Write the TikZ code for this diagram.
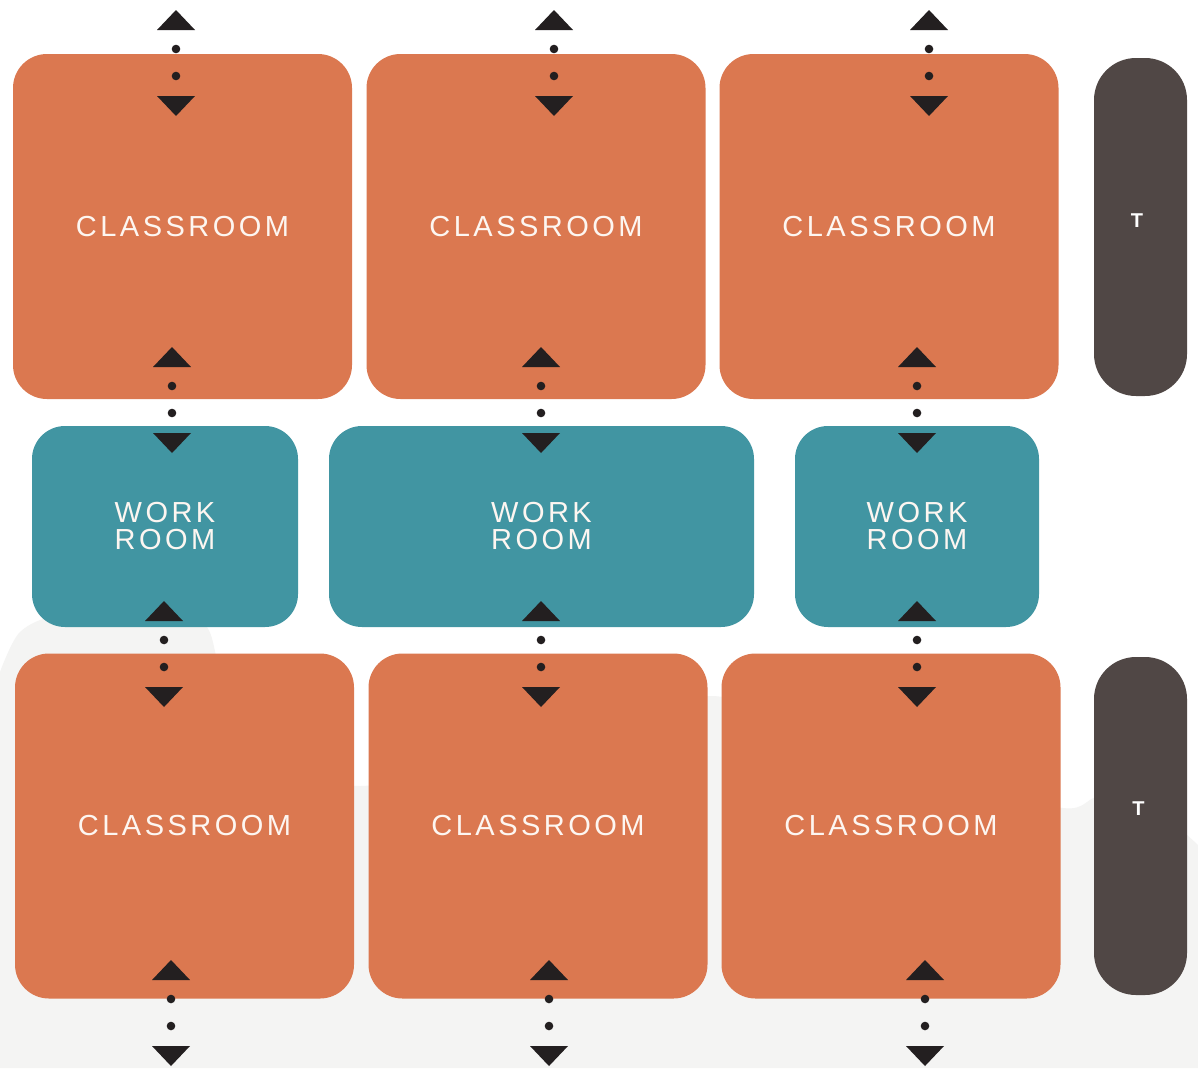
\documentclass[tikz,border=0pt]{standalone}
\usepackage{fontspec}
\setmainfont{Liberation Sans}
\newfontfamily\roomfont{Liberation Sans}[LetterSpace=12]
\definecolor{classc}{HTML}{DB7850}
\definecolor{workc}{HTML}{4195A2}
\definecolor{tc}{HTML}{504745}
\definecolor{tipc}{HTML}{231F20}
\definecolor{bgc}{HTML}{F4F4F3}
\definecolor{txtc}{HTML}{FDF6F1}
\tikzset{
  room/.style={inner sep=0pt, text=txtc, align=center,
    font=\roomfont\fontsize{29}{27}\selectfont},
  classroom/.style={room, fill=classc, rounded corners=34pt,
    minimum width=339pt, minimum height=345pt},
  workroom/.style={room, fill=workc, rounded corners=33pt, minimum height=201pt},
  tbox/.style={fill=tc, rounded corners=42pt, minimum width=93pt, minimum height=338pt, inner sep=0pt},
  tlabel/.style={text=white, font=\bfseries\fontsize{20}{20}\selectfont, inner sep=0pt},
  dotline/.style={draw=tipc, line width=8.6pt, line cap=round,
    dash pattern=on 0pt off 27pt, dash phase=8pt,
    shorten <=20pt, shorten >=20pt},
  tipfill/.style={fill=tipc}
}
\newcommand\roomconn[3]{%
  \coordinate (#1-a) at (#2,#3);
  \coordinate (#1-b) at (#2,#3+106);
  \draw[dotline] (#1-a) -- (#1-b);
  \fill[tipfill] (#1-a) -- ++(19,20) -- ++(-38,0) -- cycle;
  \fill[tipfill] (#1-b) -- ++(19,-20) -- ++(-38,0) -- cycle;
}
\begin{document}
\begin{tikzpicture}[x=1pt,y=-1pt]
\useasboundingbox (0,0) rectangle (1198,1068);
\fill[white] (0,0) rectangle (1198,1068);
% faint background cloud
\fill[bgc] plot[smooth] coordinates {(0,672) (20,632) (60,615) (150,613) (205,625) (225,680) (290,760) (360,786) (480,760) (620,715) (712,696) (800,720) (930,775) (1063,808) (1100,797) (1160,815) (1198,845)}
  -- (1198,1068) -- (0,1068) -- cycle;

% classrooms
\node[classroom] (c1) at (182.5,226.5) {CLASSROOM};
\node[classroom] (c2) at (536,226.5) {CLASSROOM};
\node[classroom] (c3) at (889,226.5) {CLASSROOM};
\node[classroom] (c4) at (184.5,826) {CLASSROOM};
\node[classroom] (c5) at (538,826) {CLASSROOM};
\node[classroom] (c6) at (891,826) {CLASSROOM};
% work rooms
\node[workroom, minimum width=266pt] (w1) at (165,526.5) {WORK\\ROOM};
\node[workroom, minimum width=425pt] (w2) at (541.5,526.5) {WORK\\ROOM};
\node[workroom, minimum width=244pt] (w3) at (917,526.5) {WORK\\ROOM};
% T blocks
\node[tbox] (t1) at (1140.5,227) {};
\node[tbox] (t2) at (1140.5,826) {};
\node[tlabel] (t1l) at (1137,220.5) {T};
\node[tlabel] (t2l) at (1138.5,808.5) {T};

% connectors
\roomconn{top1}{176}{10}
\roomconn{top2}{554}{10}
\roomconn{top3}{929}{10}
\roomconn{cw1}{172}{347}
\roomconn{cw2}{541}{347}
\roomconn{cw3}{917}{347}
\roomconn{wc1}{164}{601}
\roomconn{wc2}{541}{601}
\roomconn{wc3}{917}{601}
\roomconn{bot1}{171}{960}
\roomconn{bot2}{549}{960}
\roomconn{bot3}{925}{960}
\end{tikzpicture}
\end{document}
